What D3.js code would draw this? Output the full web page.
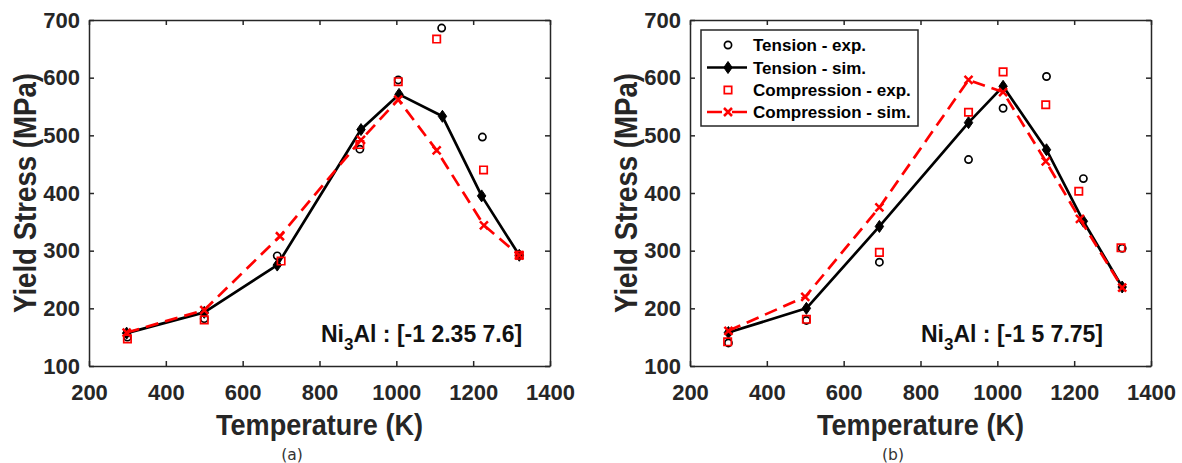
<!DOCTYPE html>
<html>
<head>
<meta charset="utf-8">
<script src="https://cdn.jsdelivr.net/npm/d3@7"></script>
<style>
  body { margin: 0; background: #fff; }
  svg text { font-family: "Liberation Sans", Arial, sans-serif; }
  svg text.caption { font-family: "DejaVu Sans", sans-serif; }
</style>
</head>
<body>
<script>
  const xTicks = [200, 400, 600, 800, 1000, 1200, 1400];
  const yTicks = [100, 200, 300, 400, 500, 600, 700];
  const legendLabels = ["Tension - exp.", "Tension - sim.", "Compression - exp.", "Compression - sim."];

  // (a) Ni3Al : [-1 2.35 7.6]
  const aTenExpT = [300, 500, 690, 905, 1005, 1118, 1224, 1320];
  const aTenExp = [150, 182, 291, 476, 596, 686, 497, 292];
  const aTenSimT = [298, 500, 690, 908, 1007, 1120, 1222, 1320];
  const aTenSim = [157, 193, 275, 510, 571, 533, 395, 292];
  const aComExpT = [300, 500, 700, 905, 1005, 1105, 1227, 1320];
  const aComExp = [147, 180, 282, 484, 593, 667, 440, 292];
  const aComSimT = [298, 500, 697, 908, 1005, 1105, 1228, 1320];
  const aComSim = [158, 197, 325, 492, 562, 474, 344, 292];

  // (b) Ni3Al : [-1 5 7.75]
  const bTenExpT = [300, 503, 693, 925, 1015, 1128, 1224, 1325];
  const bTenExp = [140, 179, 280, 458, 547, 602, 425, 304];
  const bTenSimT = [300, 503, 693, 925, 1015, 1128, 1224, 1325];
  const bTenSim = [158, 200, 342, 522, 585, 475, 351, 237];
  const bComExpT = [298, 503, 693, 925, 1015, 1126, 1212, 1322];
  const bComExp = [142, 181, 297, 540, 610, 553, 403, 305];
  const bComSimT = [300, 500, 693, 925, 1015, 1126, 1215, 1325];
  const bComSim = [161, 220, 375, 596, 575, 455, 355, 236];

  const ink = "#262626";
  const plotTop = 20, plotW = 461, plotH = 346;

  const svg = d3.select("body").append("svg")
    .attr("width", 1182)
    .attr("height", 463);

  const zip = (ts, vs) => ts.map((t, i) => ({ t, v: vs[i] }));

  const diamond = "M0,-6L4.2,0L0,6L-4.2,0Z";
  const cross = "M-4,-4L4,4M-4,4L4,-4";
  const square = "M-3.7,-3.7H3.7V3.7H-3.7Z";

  function drawPanel(left, p) {
    const g = svg.append("g").attr("transform", `translate(${left},${plotTop})`);
    const x = d3.scaleLinear().domain([200, 1400]).range([0, plotW]);
    const y = d3.scaleLinear().domain([100, 700]).range([plotH, 0]);

    const styleAxis = (sel) => {
      sel.selectAll("path, line").attr("stroke", ink).attr("stroke-width", 1.5);
      sel.selectAll("text")
        .attr("fill", ink)
        .attr("font-size", 22)
        .attr("font-weight", "bold");
    };

    g.append("g").attr("transform", `translate(0,${plotH})`)
      .call(d3.axisBottom(x).tickValues(xTicks).tickFormat(d3.format("d"))
        .tickSizeInner(-5).tickSizeOuter(0).tickPadding(18))
      .call(styleAxis);
    g.append("g")
      .call(d3.axisLeft(y).tickValues(yTicks).tickFormat(d3.format("d"))
        .tickSizeInner(-5).tickSizeOuter(0).tickPadding(9))
      .call(styleAxis);
    g.append("g")
      .call(d3.axisTop(x).tickValues(xTicks).tickSizeInner(-5).tickSizeOuter(0).tickFormat(""))
      .call(styleAxis);
    g.append("g").attr("transform", `translate(${plotW},0)`)
      .call(d3.axisRight(y).tickValues(yTicks).tickSizeInner(-5).tickSizeOuter(0).tickFormat(""))
      .call(styleAxis);

    const line = d3.line().x((d) => x(d.t)).y((d) => y(d.v));

    // tension exp
    g.selectAll(".texp").data(zip(p.tenExpT, p.tenExp)).join("circle")
      .attr("cx", (d) => x(d.t)).attr("cy", (d) => y(d.v)).attr("r", 3.6)
      .attr("fill", "none").attr("stroke", "#000").attr("stroke-width", 1.7);

    // tension sim
    const ts = zip(p.tenSimT, p.tenSim);
    g.append("path").attr("d", line(ts))
      .attr("fill", "none").attr("stroke", "#000").attr("stroke-width", 2.7)
      .attr("stroke-linejoin", "round");
    g.selectAll(".tsim").data(ts).join("path")
      .attr("d", diamond).attr("transform", (d) => `translate(${x(d.t)},${y(d.v)})`)
      .attr("fill", "#000").attr("stroke", "#000").attr("stroke-width", 1);

    // compression exp
    g.selectAll(".cexp").data(zip(p.comExpT, p.comExp)).join("path")
      .attr("d", square).attr("transform", (d) => `translate(${x(d.t)},${y(d.v)})`)
      .attr("fill", "none").attr("stroke", "#ff0000").attr("stroke-width", 1.7);

    // compression sim
    const cs = zip(p.comSimT, p.comSim);
    g.append("path").attr("d", line(cs))
      .attr("fill", "none").attr("stroke", "#ff0000").attr("stroke-width", 2.7)
      .attr("stroke-dasharray", "13,7");
    g.selectAll(".csim").data(cs).join("path")
      .attr("d", cross).attr("transform", (d) => `translate(${x(d.t)},${y(d.v)})`)
      .attr("fill", "none").attr("stroke", "#ff0000").attr("stroke-width", 2.5);

    // annotation
    const note = g.append("text")
      .attr("x", p.noteX).attr("y", 321.5)
      .attr("fill", "#111").attr("font-size", 23).attr("font-weight", "bold");
    note.append("tspan").text("Ni");
    note.append("tspan").attr("dy", 8).attr("font-size", 17).text("3");
    note.append("tspan").attr("dy", -8).text(p.note);

    // axis labels
    g.append("text")
      .attr("x", plotW / 2).attr("y", 415)
      .attr("text-anchor", "middle")
      .attr("fill", ink).attr("font-size", 30).attr("font-weight", "bold")
      .attr("textLength", 207).attr("lengthAdjust", "spacingAndGlyphs")
      .text("Temperature (K)");
    g.append("text")
      .attr("transform", `translate(-53,${plotH / 2}) rotate(-90)`)
      .attr("text-anchor", "middle")
      .attr("fill", ink).attr("font-size", 31).attr("font-weight", "bold")
      .attr("textLength", 240).attr("lengthAdjust", "spacingAndGlyphs")
      .text("Yield Stress (MPa)");

    // caption
    svg.append("text")
      .attr("class", "caption")
      .attr("x", left + 203).attr("y", 459.5)
      .attr("text-anchor", "middle")
      .attr("fill", "#333").attr("font-size", 15.5)
      .text(p.caption);

    if (p.legend) drawLegend(g);
  }

  function drawLegend(g) {
    const lg = g.append("g").attr("transform", "translate(11,10)");
    lg.append("rect").attr("width", 217).attr("height", 96)
      .attr("fill", "#fff").attr("stroke", ink).attr("stroke-width", 1.5);
    const rows = [15, 37.5, 60, 82];
    const sx = 27;
    rows.forEach((ry, i) => {
      if (i === 1) {
        lg.append("line").attr("x1", 6).attr("x2", 46).attr("y1", ry).attr("y2", ry)
          .attr("stroke", "#000").attr("stroke-width", 2.7);
        lg.append("path").attr("d", diamond).attr("transform", `translate(${sx},${ry})`)
          .attr("fill", "#000").attr("stroke", "#000");
      } else if (i === 3) {
        lg.append("line").attr("x1", 6).attr("x2", 46).attr("y1", ry).attr("y2", ry)
          .attr("stroke", "#ff0000").attr("stroke-width", 2.7).attr("stroke-dasharray", "15,10");
        lg.append("path").attr("d", cross).attr("transform", `translate(${sx},${ry})`)
          .attr("fill", "none").attr("stroke", "#ff0000").attr("stroke-width", 2.5);
      } else if (i === 0) {
        lg.append("circle").attr("cx", sx).attr("cy", ry).attr("r", 3.6)
          .attr("fill", "none").attr("stroke", "#000").attr("stroke-width", 1.7);
      } else {
        lg.append("path").attr("d", square).attr("transform", `translate(${sx},${ry})`)
          .attr("fill", "none").attr("stroke", "#ff0000").attr("stroke-width", 1.7);
      }
      lg.append("text").attr("x", 52).attr("y", ry).attr("dy", "0.36em")
        .attr("fill", "#000").attr("font-size", 17).attr("font-weight", "bold")
        .text(legendLabels[i]);
    });
  }

  drawPanel(89, {
    tenExpT: aTenExpT, tenExp: aTenExp, tenSimT: aTenSimT, tenSim: aTenSim,
    comExpT: aComExpT, comExp: aComExp, comSimT: aComSimT, comSim: aComSim,
    note: "Al : [-1 2.35 7.6]", noteX: 232, caption: "(a)", legend: false
  });
  drawPanel(690, {
    tenExpT: bTenExpT, tenExp: bTenExp, tenSimT: bTenSimT, tenSim: bTenSim,
    comExpT: bComExpT, comExp: bComExp, comSimT: bComSimT, comSim: bComSim,
    note: "Al : [-1 5 7.75]", noteX: 231, caption: "(b)", legend: true
  });
</script>
</body>
</html>
